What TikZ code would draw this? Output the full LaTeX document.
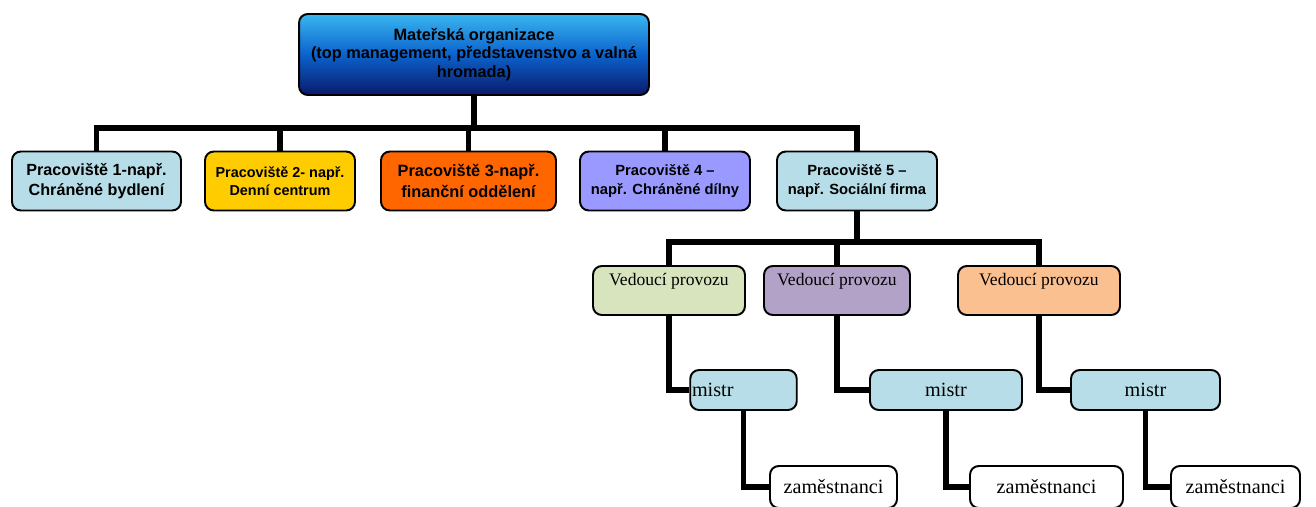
\documentclass[tikz,border=0pt]{standalone}
\usepackage{fontspec}
\setmainfont{Liberation Serif}
\setsansfont{Liberation Sans}
\definecolor{aqua}{HTML}{B7DEE8}
\definecolor{gold}{HTML}{FFCC00}
\definecolor{rust}{HTML}{FF6600}
\definecolor{lilac}{HTML}{9999FF}
\definecolor{olivelight}{HTML}{D7E4BD}
\definecolor{plum}{HTML}{B3A2C7}
\definecolor{peach}{HTML}{FAC090}
\definecolor{skytop}{HTML}{3AB6F0}
\definecolor{skymid}{HTML}{0B62CC}
\definecolor{navybot}{HTML}{0A1A6B}

\begin{document}
\begin{tikzpicture}[x=0.02cm,y=-0.02cm,
    box/.style={draw,line width=1.1pt,rounded corners=5pt,align=center,inner sep=1pt},
    site/.style={box,minimum height=1.18cm,font=\sffamily\bfseries},
    boss/.style={box,inner ysep=0pt,text height=0.38cm,text depth=0.6cm,font=\fontsize{10}{12}\selectfont},
    master/.style={box,fill=aqua,minimum height=0.8cm,font=\fontsize{11.5}{13}\selectfont},
    staff/.style={box,fill=white,minimum height=0.84cm,font=\fontsize{11.5}{13}\selectfont},
    conn/.style={line width=3.4pt}]
    \useasboundingbox (0,0) rectangle (1316,507);
    \clip (0,0) rectangle (1316,507);
    %mother organisation
    \node[box,top color=skytop,bottom color=navybot,middle color=skymid,
      minimum width=7cm,minimum height=1.62cm,
      font=\sffamily\bfseries\fontsize{9.3}{10.6}\selectfont] (top) at (474,54.5)
      {Mateřská organizace\\(top management, představenstvo a valná\\hromada)};
    %workplaces
    \node[site,fill=aqua,minimum width=3.38cm,font=\sffamily\bfseries\fontsize{9.2}{11.6}\selectfont] (p1) at (96.5,181)
      {Pracoviště 1-např.\\Chráněné bydlení};
    \node[site,fill=gold,minimum width=3cm,font=\sffamily\bfseries\fontsize{8.2}{10.3}\selectfont] (p2) at (280,181)
      {Pracoviště 2- např.\\Denní centrum};
    \node[site,fill=rust,minimum width=3.5cm,font=\sffamily\bfseries\fontsize{9.3}{11.6}\selectfont] (p3) at (468.5,181)
      {Pracoviště 3-např.\\finanční oddělení};
    \node[site,fill=lilac,minimum width=3.4cm,font=\sffamily\bfseries\fontsize{8.4}{10.6}\selectfont] (p4) at (665,181)
      {Pracoviště 4 –\\např. Chráněné dílny};
    \node[site,fill=aqua,minimum width=3.2cm,font=\sffamily\bfseries\fontsize{8.4}{10.6}\selectfont] (p5) at (857,181)
      {Pracoviště 5 –\\např. Sociální firma};
    %managers
    \node[boss,fill=olivelight,minimum width=3.04cm] (vA) at (669,290.5) {Vedoucí provozu};
    \node[boss,fill=plum,minimum width=2.92cm] (vB) at (837,290.5) {Vedoucí provozu};
    \node[boss,fill=peach,minimum width=3.24cm] (vC) at (1039,290.5) {Vedoucí provozu};
    %foremen
    \node[master,text width=2.06cm,align=left] (mA) at (743.5,390) {mistr};
    \node[master,minimum width=3.04cm] (mB) at (946,390) {mistr};
    \node[master,minimum width=2.98cm] (mC) at (1145.5,390) {mistr};
    %employees
    \node[staff,minimum width=2.54cm] (zA) at (833.5,487) {zaměstnanci};
    \node[staff,minimum width=3.06cm] (zB) at (1046.5,487) {zaměstnanci};
    \node[staff,minimum width=2.58cm] (zC) at (1235.5,487) {zaměstnanci};
    %lines
    \foreach \p in {p1,p2,p3,p4,p5}
      \draw[conn] (top.south) -- ++(0,32) -| (\p.north);
    \foreach \v in {vA,vB,vC}
      \draw[conn] (p5.south) -- ++(0,31) -| (\v.north);
    \foreach \v/\m/\z in {vA/mA/zA,vB/mB/zB,vC/mC/zC}{
      \draw[conn] (\v.south) |- (\m.west);
      \draw[conn] (\m.south) |- (\z.west);
    }
\end{tikzpicture}
\end{document}
